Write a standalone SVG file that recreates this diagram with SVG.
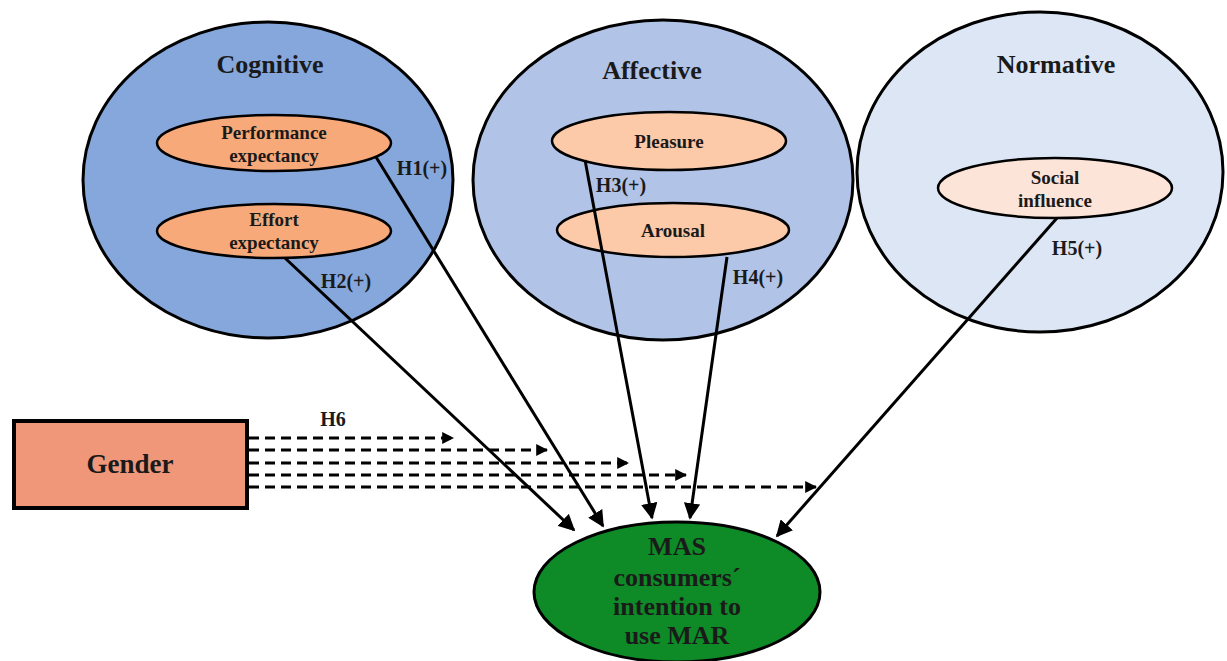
<svg xmlns="http://www.w3.org/2000/svg" width="1227" height="661" viewBox="0 0 1227 661">
<defs>
<style>
text{font-family:'Liberation Serif','DejaVu Serif',serif;font-weight:bold;fill:#1a1a1a;text-anchor:middle}
.grp{stroke:#000;stroke-width:3}
.t{font-size:26px}
.e{stroke:#000;stroke-width:2.5}
.s{font-size:19px}
.lbl{font-size:20px}
.m{font-size:26px}
.c{stroke:#000;stroke-width:3;fill:none}
.d{stroke:#000;stroke-width:3;fill:none;stroke-dasharray:10 6}
</style>
<marker id="ah" viewBox="0 0 10 10" refX="9" refY="5" markerWidth="5.5" markerHeight="5.5" orient="auto" markerUnits="strokeWidth">
<path d="M0,0 L10,5 L0,10 z" fill="#000"/>
</marker>
<marker id="ahs" viewBox="0 0 10 10" refX="9" refY="5" markerWidth="4" markerHeight="4" orient="auto" markerUnits="strokeWidth">
<path d="M0,0 L10,5 L0,10 z" fill="#000"/>
</marker>
</defs>
<rect width="1227" height="661" fill="#fff"/>
<g id="cognitive">
<ellipse class="grp" cx="268" cy="180" rx="185" ry="158" fill="#85A7DC"/>
<text class="t" x="270" y="73">Cognitive</text>
</g>
<g id="affective">
<ellipse class="grp" cx="663" cy="180" rx="190" ry="160" fill="#B1C3E7"/>
<text class="t" x="652" y="79">Affective</text>
</g>
<g id="normative">
<ellipse class="grp" cx="1040" cy="172" rx="183" ry="160" fill="#DDE6F5"/>
<text class="t" x="1056" y="73">Normative</text>
</g>
<g id="performance">
<ellipse class="e" cx="274" cy="143" rx="117" ry="28" fill="#F8A979"/>
<text class="s" x="274" y="139">Performance</text>
<text class="s" x="274" y="162">expectancy</text>
</g>
<g id="effort">
<ellipse class="e" cx="274" cy="231" rx="117" ry="27" fill="#F8A979"/>
<text class="s" x="274" y="226">Effort</text>
<text class="s" x="274" y="249">expectancy</text>
</g>
<g id="pleasure">
<ellipse class="e" cx="669" cy="141" rx="117" ry="29" fill="#FCCAA9"/>
<text class="s" x="669" y="148">Pleasure</text>
</g>
<g id="arousal">
<ellipse class="e" cx="673" cy="230" rx="116" ry="27" fill="#FCCAA9"/>
<text class="s" x="673" y="237">Arousal</text>
</g>
<g id="social">
<ellipse class="e" cx="1055" cy="188" rx="117" ry="30" fill="#FDE4D8"/>
<text class="s" x="1055" y="184">Social</text>
<text class="s" x="1055" y="207">influence</text>
</g>
<g id="gender">
<rect x="14" y="421" width="233" height="87" fill="#F0977A" stroke="#000" stroke-width="4"/>
<text x="130" y="473" font-size="27">Gender</text>
</g>
<g id="connectors">
<line class="c" x1="376" y1="157" x2="603" y2="526" marker-end="url(#ah)"/>
<line class="c" x1="285" y1="258" x2="574" y2="530" marker-end="url(#ah)"/>
<line class="c" x1="585" y1="160" x2="652" y2="518" marker-end="url(#ah)"/>
<line class="c" x1="727" y1="257" x2="690" y2="518" marker-end="url(#ah)"/>
<line class="c" x1="1057" y1="218" x2="777" y2="536" marker-end="url(#ah)"/>
<line class="d" x1="249" y1="438" x2="453" y2="438" marker-end="url(#ahs)"/>
<line class="d" x1="249" y1="450" x2="547" y2="450" marker-end="url(#ahs)"/>
<line class="d" x1="249" y1="463" x2="628" y2="463" marker-end="url(#ahs)"/>
<line class="d" x1="249" y1="475" x2="686" y2="475" marker-end="url(#ahs)"/>
<line class="d" x1="249" y1="487" x2="816" y2="487" marker-end="url(#ahs)"/>
</g>
<g id="labels">
<text class="lbl" x="422" y="175">H1(+)</text>
<text class="lbl" x="346" y="288">H2(+)</text>
<text class="lbl" x="621" y="192">H3(+)</text>
<text class="lbl" x="758" y="284">H4(+)</text>
<text class="lbl" x="1077" y="255">H5(+)</text>
<text class="lbl" x="333" y="426">H6</text>
</g>
<g id="mas">
<ellipse cx="677" cy="592" rx="143" ry="70" fill="#0E8A27" stroke="#000" stroke-width="3"/>
<text class="m" x="677" y="555">MAS</text>
<text class="m" x="677" y="586">consumers´</text>
<text class="m" x="677" y="615">intention to</text>
<text class="m" x="677" y="644">use MAR</text>
</g>
</svg>
